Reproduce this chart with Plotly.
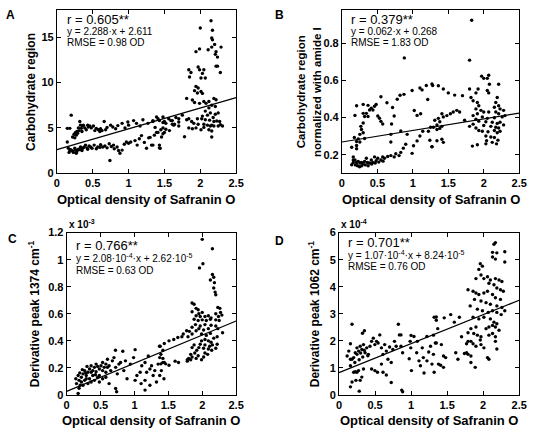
import numpy as np
import plotly.graph_objects as go

# ---------------- data ----------------
x_ticks = [0, 0.5, 1, 1.5, 2, 2.5]

# Panel A: carbohydrate region vs optical density
a_points = [
    (0.145,4.95),(0.18,4.95),(0.2,6.4),(0.22,4.0),(0.24,4.3),(0.26,4.5),(0.28,4.6),(0.30,5.0),(0.32,5.7),(0.33,5.3),
    (0.34,4.95),(0.36,5.2),(0.39,5.0),(0.41,4.8),(0.44,5.1),(0.48,5.0),(0.51,5.2),(0.55,4.95),(0.58,4.8),(0.61,4.9),
    (0.66,5.7),(0.70,5.05),(0.75,5.3),(0.82,4.9),(0.85,5.25),(0.91,5.5),(0.99,5.65),(1.07,5.8),(1.11,5.5),(1.20,5.9),
    (1.27,5.5),(1.34,5.8),(1.41,6.0),(1.48,5.6),(1.52,5.5),(1.59,5.8),(1.64,5.4),(1.70,5.65),
    (0.25,3.9),(0.27,4.2),(0.29,4.4),(0.31,4.7),(0.35,4.6),(0.37,5.3),(0.43,5.3),(0.46,5.2),(0.53,4.7),(0.6,4.6),
    (0.63,4.7),(0.68,4.8),(0.78,5.1),(0.95,5.0),(1.0,5.3),(1.16,5.2),
    (0.145,3.45),(0.16,2.75),(0.18,2.45),(0.2,2.55),(0.23,2.3),(0.25,2.75),(0.27,2.2),(0.30,2.65),(0.33,2.9),(0.36,2.75),
    (0.40,3.1),(0.42,2.8),(0.45,3.0),(0.49,2.75),(0.52,3.1),(0.57,2.9),(0.61,3.15),(0.67,3.0),(0.73,3.25),(0.74,1.4),
    (0.79,3.1),(0.84,2.9),(0.88,2.2),(0.91,2.55),(0.97,3.45),(1.03,3.45),(1.09,3.6),(1.15,3.8),(1.18,4.15),(1.25,2.75),
    (1.30,3.95),(1.34,3.1),(1.39,4.5),(1.44,2.75),(1.48,4.35),(1.52,4.85),(1.57,4.7),(1.61,5.4),
    (0.17,2.3),(0.19,2.6),(0.22,2.45),(0.26,2.55),(0.28,2.4),(0.32,2.6),(0.35,2.5),(0.38,2.9),(0.43,2.65),(0.47,2.9),
    (0.55,2.7),(0.6,2.85),(0.64,2.9),(0.7,2.8),(0.76,2.95),(0.8,2.7),(0.86,2.5),(0.94,3.2),(1.0,3.3),(1.12,3.1),
    (1.22,3.4),(1.28,3.9),(1.36,4.2),(1.46,4.0),
    (2.15,16.8),(2.0,16.0),(2.17,15.75),(2.16,14.9),(2.17,14.7),(2.2,14.2),(2.16,13.9),(2.29,13.9),(1.99,13.7),(1.94,13.4),
    (2.11,13.6),(2.22,13.4),(2.24,12.8),(2.21,13.1),(2.22,11.8),(2.24,11.8),(1.97,11.7),(1.99,11.4),(1.84,11.4),(1.87,11.1),
    (2.05,11.4),(2.03,11.0),(2.28,11.1),(1.85,10.6),(2.01,10.5),(2.07,10.5),(1.94,9.57),(1.97,9.4),(1.92,9.1),(2.01,9.0),
    (2.03,8.8),(1.96,8.85),(1.89,8.07),(1.81,8.25),(1.92,7.8),(1.99,7.7),(2.05,7.9),(2.08,7.7),(2.12,7.9),(2.19,8.25),
    (2.22,8.1),(2.16,7.5),(2.21,7.35),(2.12,7.2),(2.07,6.85),(2.03,6.3),(2.1,6.4),(2.14,6.65),(2.18,6.15),(2.21,6.5),
    (2.25,6.65),(1.96,6.0),(2.02,6.0),(2.07,5.9),(2.13,5.85),(2.19,5.7),(2.23,5.75),(2.27,5.7),(1.84,6.0),(1.88,5.7),
    (1.91,5.5),(1.97,5.4),(2.05,5.4),(2.1,5.3),(2.16,5.3),(2.19,5.2),(2.25,5.2),(2.31,5.2),(2.28,5.35),(1.94,5.0),
    (2.01,4.8),(2.05,5.05),(2.12,4.8),(2.16,4.65),(1.84,5.0),(1.89,4.9),(1.78,4.03),(2.16,4.0),(2.14,5.2),(1.75,6.4),
    (1.81,5.9),(1.7,6.0),(1.66,6.15),(1.61,5.8),(1.7,5.2),(1.63,5.3),(1.56,6.0),(1.5,5.7),(1.48,6.2),(1.43,5.8),
    (1.39,6.2),(1.34,5.7),(1.48,5.0),(1.5,4.5),(1.45,4.8),(1.41,4.5),(1.37,5.05),(1.43,3.1),(1.32,3.1),(1.43,2.8),
]

# Panel B: carbohydrate region normalized with amide I
b_points = [
    (1.83,0.922),(1.80,0.708),(1.97,0.622),(2.07,0.627),(2.05,0.61),(2.0,0.61),(2.08,0.578),(2.21,0.578),(1.27,0.58),(1.36,0.57),
    (1.43,0.553),(1.50,0.532),(1.59,0.52),(1.70,0.517),(1.80,0.553),(1.89,0.532),(1.92,0.553),(2.05,0.545),(2.07,0.532),(1.82,0.507),
    (1.85,0.49),(1.91,0.48),(1.93,0.463),(2.19,0.507),(2.17,0.48),(2.21,0.463),(2.15,0.455),(2.23,0.446),(2.28,0.438),(1.89,0.446),
    (1.96,0.438),(2.0,0.429),(2.07,0.429),(2.17,0.429),(2.21,0.42),(1.91,0.42),(1.85,0.41),(1.98,0.403),(2.05,0.395),(2.15,0.398),
    (2.26,0.403),(2.3,0.41),(1.89,0.39),(1.93,0.38),(2.03,0.377),(2.12,0.374),(2.19,0.368),(2.23,0.374),(2.28,0.36),(2.0,0.357),
    (2.1,0.352),(2.17,0.347),(2.21,0.343),(1.89,0.343),(1.93,0.33),(1.98,0.326),(2.06,0.323),(2.15,0.33),(2.19,0.318),(2.23,0.326),
    (1.80,0.352),(1.85,0.364),(2.03,0.3),(2.1,0.295),(2.15,0.292),(2.2,0.278),(2.04,0.275),(2.12,0.266),(2.18,0.258),(2.03,0.258),
    (1.84,0.246),(1.91,0.253),(1.73,0.385),(1.66,0.429),(1.62,0.438),(1.57,0.429),(1.53,0.42),(1.48,0.41),(1.43,0.403),(1.41,0.42),
    (1.36,0.395),(1.31,0.385),(1.38,0.377),(1.34,0.36),(1.29,0.347),(1.25,0.347),(1.41,0.352),(1.38,0.341),(1.34,0.335),(1.34,0.275),
    (1.41,0.283),(1.43,0.266),(1.27,0.243),
    (0.184,0.411),(0.207,0.463),(0.30,0.47),(0.368,0.465),(0.414,0.45),(0.46,0.46),(0.483,0.47),(0.55,0.511),(0.39,0.44),(0.437,0.44),
    (0.345,0.422),(0.30,0.422),(0.32,0.405),(0.368,0.405),(0.506,0.408),(0.53,0.396),(0.55,0.379),(0.575,0.365),(0.635,0.479),(0.714,0.453),
    (0.737,0.408),(0.78,0.498),(0.82,0.519),(0.875,0.524),(0.99,0.545),(1.1,0.558),(1.13,0.548),(1.19,0.572),(1.28,0.572),(0.30,0.37),
    (0.267,0.352),(0.276,0.335),(0.253,0.309),(0.30,0.318),(0.32,0.287),(0.23,0.285),(0.207,0.271),(0.253,0.268),(0.175,0.292),(0.138,0.24),
    (0.207,0.232),(0.16,0.188),(0.184,0.171),(0.16,0.158),(0.207,0.158),(0.23,0.164),(0.253,0.155),(0.276,0.158),(0.30,0.151),(0.32,0.164),
    (0.345,0.181),(0.36,0.158),(0.39,0.155),(0.414,0.171),(0.437,0.158),(0.46,0.188),(0.483,0.167),(0.506,0.181),(0.55,0.171),(0.575,0.188),
    (0.60,0.181),(0.645,0.19),(0.69,0.195),(0.737,0.188),(0.76,0.205),(0.806,0.195),(0.83,0.212),(0.866,0.235),(0.90,0.256),(0.99,0.207),
    (1.01,0.248),(1.06,0.274),(1.1,0.3),(0.69,0.268),(0.92,0.309),(1.06,0.411),(1.11,0.42),(1.02,0.437),(1.21,0.496),(1.22,0.326),
    (1.24,0.277),(1.27,0.242),(1.14,0.326),(0.69,0.309),(0.83,0.327),(0.70,0.365),(0.207,0.249),(0.138,0.146),(0.16,0.171),(0.88,0.72),
    (0.19,0.145),(0.22,0.14),(0.25,0.135),(0.28,0.14),(0.33,0.145),(0.37,0.14),(0.42,0.15),(0.47,0.155),(0.52,0.16),(0.58,0.165),
]

# Panel C: derivative peak 1374 cm-1 (values in units of 1e-3)
c_points = [
    (2.0,1.15),(2.15,1.08),(1.96,0.939),(2.01,0.97),(2.15,0.89),(2.17,0.87),(2.12,0.85),(2.18,0.83),(2.17,0.79),(2.19,0.76),
    (2.2,0.74),(2.23,0.647),(2.26,0.64),(2.27,0.61),(2.29,0.59),(1.85,0.68),(1.88,0.67),(1.91,0.64),(1.94,0.63),(1.85,0.615),
    (1.95,0.6),(2.0,0.61),(1.91,0.585),(1.97,0.58),(2.04,0.58),(2.09,0.585),(2.13,0.57),(2.2,0.6),(2.24,0.58),(1.88,0.56),
    (1.94,0.55),(2.0,0.555),(2.06,0.55),(2.12,0.56),(2.2,0.555),(2.25,0.55),(1.9,0.52),(1.97,0.51),(2.04,0.52),(2.13,0.515),
    (2.2,0.51),(1.85,0.5),(1.95,0.49),(2.02,0.48),(2.09,0.49),(2.23,0.49),(1.99,0.45),(2.06,0.44),(2.12,0.455),(2.17,0.42),
    (2.22,0.43),(2.3,0.46),(2.04,0.41),(2.09,0.4),(2.13,0.39),(1.99,0.4),(1.97,0.375),(2.04,0.37),(2.11,0.36),(2.15,0.37),
    (2.22,0.375),(2.02,0.345),(2.09,0.34),(2.14,0.33),(2.2,0.345),(2.04,0.31),(2.08,0.3),(1.95,0.35),(1.88,0.37),(1.85,0.35),
    (1.92,0.33),(1.89,0.31),(1.83,0.3),(1.85,0.28),(1.94,0.29),(1.8,0.27),(1.83,0.26),(1.78,0.25),(1.91,0.27),(1.99,0.26),
    (2.02,0.28),(1.91,0.475),(1.85,0.45),(1.81,0.47),(1.77,0.475),(1.79,0.43),(1.72,0.45),(1.7,0.43),(1.64,0.425),(1.58,0.41),
    (1.51,0.4),(1.44,0.38),(1.37,0.36),(1.42,0.33),(1.39,0.3),(1.42,0.27),(1.44,0.24),(1.39,0.23),(1.46,0.23),(1.51,0.22),
    (1.6,0.25),(1.65,0.24),(1.78,0.26),
    (0.169,0.012),(0.183,0.05),(0.145,0.084),(0.135,0.12),(0.169,0.144),(0.193,0.163),(0.217,0.131),(0.241,0.156),(0.265,0.18),(0.289,0.144),
    (0.313,0.168),(0.337,0.192),(0.361,0.216),(0.385,0.18),(0.409,0.204),(0.434,0.172),(0.458,0.211),(0.482,0.192),(0.506,0.216),(0.53,0.18),
    (0.554,0.204),(0.578,0.228),(0.602,0.264),(0.626,0.216),(0.65,0.18),(0.674,0.252),(0.698,0.276),(0.723,0.204),(0.747,0.156),(0.771,0.228),
    (0.795,0.24),(0.828,0.323),(0.843,0.18),(0.867,0.252),(0.891,0.12),(0.217,0.096),(0.241,0.072),(0.265,0.108),(0.313,0.084),(0.337,0.12),
    (0.361,0.096),(0.409,0.108),(0.458,0.131),(0.482,0.096),(0.53,0.12),(0.578,0.131),(0.626,0.084),(0.723,0.048),(0.737,0.024),(0.2,0.072),
    (0.183,0.108),(0.289,0.12),(0.385,0.144),(0.482,0.144),(0.28,0.163),(0.231,0.187),(0.3,0.211),(0.361,0.168),(0.424,0.149),(0.434,0.228),
    (0.53,0.24),(0.602,0.204),(0.578,0.168),(0.939,0.228),(0.987,0.276),(1.01,0.335),(1.036,0.144),(1.084,0.168),(1.108,0.216),(1.01,0.108),
    (1.098,0.084),(1.156,0.108),(1.18,0.168),(1.228,0.192),(1.156,0.24),(1.204,0.288),(1.252,0.216),(1.276,0.144),(1.3,0.18),(1.349,0.228),
    (1.373,0.144),(1.325,0.096),(1.397,0.18),(1.42,0.24),(1.435,0.12),(1.373,0.276),(1.228,0.072),(1.156,0.036),(0.72,0.33),(1.38,0.36),
]

# Panel D: derivative peak 1062 cm-1 (values in units of 1e-4)
d_points = [
    (0.181,2.61),(0.159,1.89),(0.136,1.62),(0.113,1.44),(0.159,1.32),(0.204,1.38),(0.226,1.56),(0.249,1.74),(0.272,1.62),(0.294,1.8),
    (0.317,1.68),(0.34,1.86),(0.353,2.37),(0.326,2.28),(0.362,1.56),(0.385,1.74),(0.408,1.5),(0.43,1.8),(0.453,1.98),(0.476,2.1),
    (0.498,1.86),(0.521,1.98),(0.543,1.92),(0.566,2.22),(0.589,1.74),(0.611,1.5),(0.634,1.86),(0.657,1.62),(0.679,1.32),(0.702,1.77),
    (0.725,1.2),(0.747,1.68),(0.77,1.98),(0.793,1.8),(0.824,2.61),(0.838,2.22),(0.86,1.8),(0.883,1.56),(0.87,0.18),(0.883,0.12),
    (0.181,1.32),(0.159,1.08),(0.204,0.84),(0.226,0.86),(0.249,0.84),(0.272,0.9),(0.294,0.54),(0.317,0.66),(0.34,0.96),(0.159,0.3),
    (0.181,0.48),(0.235,0.54),(0.281,0.14),(0.453,0.96),(0.498,0.9),(0.534,0.84),(0.589,1.14),(0.611,0.84),(0.657,0.74),(0.725,0.46),
    (0.974,1.34),(0.987,1.98),(0.996,1.74),(1.005,0.9),(1.04,2.16),(1.078,1.56),(1.087,1.98),(1.11,1.26),(1.13,1.08),(1.155,1.74),
    (1.17,1.38),(1.18,0.81),(1.22,1.26),(1.245,1.59),(1.27,1.8),(1.29,1.14),(1.31,1.5),(1.336,1.92),(1.35,2.76),(1.35,2.88),
    (1.22,2.16),(0.86,2.22),(1.0,2.2),(0.25,1.5),(0.3,1.55),(0.35,1.65),(0.4,1.45),(0.28,1.3),(0.22,1.2),(0.33,1.4),
    (2.17,5.63),(2.15,5.57),(2.13,5.27),(2.19,5.25),(2.3,5.29),(2.13,5.1),(2.17,5.02),(2.3,4.91),(1.96,4.85),(1.99,4.76),
    (1.94,4.64),(1.9,4.3),(1.97,4.43),(2.01,4.3),(2.06,4.37),(2.1,4.25),(2.17,4.3),(2.22,4.25),(2.26,4.19),(2.08,4.13),
    (2.15,4.07),(2.19,3.95),(2.24,3.89),(2.28,3.83),(1.79,3.89),(1.86,3.83),(1.9,3.77),(1.94,3.71),(2.01,3.77),(2.06,3.83),
    (2.13,3.71),(2.17,3.59),(2.24,3.53),(1.88,3.53),(1.97,3.47),(2.04,3.41),(2.1,3.35),(2.19,3.29),(2.26,3.23),(2.3,3.11),
    (1.82,3.29),(1.92,3.17),(1.99,3.11),(2.07,3.05),(2.13,3.11),(2.19,3.05),(2.25,2.97),(1.86,2.87),(1.94,2.81),(2.01,2.87),
    (2.1,2.81),(2.15,2.69),(2.19,2.63),(2.13,2.57),(2.17,2.51),(2.08,2.51),(2.04,2.45),(2.22,2.39),(2.13,2.27),(2.08,2.21),
    (2.17,2.15),(1.9,2.51),(1.83,2.45),(1.79,2.3),(1.87,2.27),(1.92,2.21),(1.97,2.15),(1.79,1.98),(1.77,1.89),(1.86,1.89),
    (1.9,1.8),(1.97,1.86),(2.01,1.74),(2.19,1.7),(2.06,1.38),(2.08,1.32),(1.74,1.53),(1.79,1.5),(1.83,1.44),(1.83,1.2),
    (1.89,1.02),(1.7,2.15),(1.6,2.69),(1.67,2.87),(1.55,2.97),(1.46,2.85),(1.32,2.87),(1.37,2.45),(1.31,2.21),(1.35,1.92),
    (1.42,1.86),(1.45,1.44),(1.48,1.38),(1.38,1.14),(1.41,1.1),(1.45,1.02),(1.32,0.84),(1.62,1.56),(1.65,1.32),(1.77,1.56),
    (1.96,2.03),(1.83,1.98),(2.17,1.98),
]

# regression fits (slope, intercept) in plotted units
a_fit = (2.288, 2.611)
b_fit = (0.062, 0.268)
c_fit = (0.208, 0.0262)   # 2.08e-4, 2.62e-5 in units of 1e-3
d_fit = (1.07, 0.824)     # 1.07e-4, 8.24e-5 in units of 1e-4

a_text = ["r = 0.605**", "y = 2.288·x + 2.611", "RMSE = 0.98 OD"]
b_text = ["r = 0.379**", "y = 0.062·x + 0.268", "RMSE = 1.83 OD"]
c_text = ["r = 0.766**", "y = 2.08·10<sup>-4</sup>·x + 2.62·10<sup>-5</sup>", "RMSE = 0.63 OD"]
d_text = ["r = 0.701**", "y = 1.07·10<sup>-4</sup>·x + 8.24·10<sup>-5</sup>", "RMSE = 0.76 OD"]

a_yticks = [0, 5, 10, 15]
b_yticks = [0.2, 0.4, 0.6, 0.8]
c_yticks = [0, 0.2, 0.4, 0.6, 0.8, 1, 1.2]
d_yticks = [0, 1, 2, 3, 4, 5, 6]

# ---------------- layout helpers ----------------
W, H = 537, 435
def px(x):
    return x / W
def py(y):
    return 1 - y / H

FONT = "Liberation Sans, Arial, sans-serif"

panels = [
    dict(pts=a_points, fit=a_fit, txt=a_text, yt=a_yticks, yr=[0, 18], box=(55, 238, 4, 172),
         ylab=["Carbohydrate region"], ylx=[28], ylsize=12, letter="A", lpos=(8, 9), tpos=(63, 14),
         gaps=(12, 24), exp=None),
    dict(pts=b_points, fit=b_fit, txt=b_text, yt=b_yticks, yr=[0.1, 0.978], box=(346, 527, 4, 172),
         ylab=["Carbohydrate region", "normalized with amide I"], ylx=[304, 320], ylsize=11.5, letter="B",
         lpos=(282, 9), tpos=(353, 14), gaps=(12, 24), exp=None),
    dict(pts=c_points, fit=c_fit, txt=c_text, yt=c_yticks, yr=[0, 1.2], box=(65, 238, 233, 400),
         ylab=["Derivative peak 1374 cm<sup>-1</sup>"], ylx=[31], ylsize=12, letter="C", lpos=(10, 240),
         tpos=(72, 246), gaps=(13, 26), exp="x 10<sup>-3</sup>"),
    dict(pts=d_points, fit=d_fit, txt=d_text, yt=d_yticks, yr=[0, 6], box=(343, 527, 233, 400),
         ylab=["Derivative peak 1062 cm<sup>-1</sup>"], ylx=[317], ylsize=12, letter="D", lpos=(282, 242),
         tpos=(350, 243), gaps=(13, 25), exp="x 10<sup>-4</sup>"),
]

fig = go.Figure()
annotations = []
axis_common = dict(showline=True, linecolor="black", linewidth=1, mirror="ticks",
                   ticks="inside", ticklen=4, tickcolor="black", showgrid=False, zeroline=False,
                   tickfont=dict(family=FONT, size=11, color="black", weight="bold"))

for i, p in enumerate(panels, start=1):
    xs = [q[0] for q in p["pts"]]
    ys = [q[1] for q in p["pts"]]
    xa = "x" if i == 1 else f"x{i}"
    ya = "y" if i == 1 else f"y{i}"
    fig.add_trace(go.Scatter(x=xs, y=ys, mode="markers", xaxis=xa, yaxis=ya,
                             marker=dict(color="black", size=3.4), showlegend=False, hoverinfo="skip"))
    lx = np.array([0.0, 2.5])
    fig.add_trace(go.Scatter(x=lx, y=p["fit"][0] * lx + p["fit"][1], mode="lines", xaxis=xa, yaxis=ya,
                             line=dict(color="black", width=1.2), showlegend=False, hoverinfo="skip"))
    l, r, t, b = p["box"]
    fig.update_layout(**{
        ("xaxis" if i == 1 else f"xaxis{i}"): dict(domain=[px(l), px(r)], range=[0, 2.5], tickvals=x_ticks,
                                                  anchor=ya, **axis_common),
        ("yaxis" if i == 1 else f"yaxis{i}"): dict(domain=[py(b), py(t)], range=p["yr"], tickvals=p["yt"],
                                                  anchor=xa, **axis_common),
    })
    annotations.append(dict(text=f"<b>{p['letter']}</b>", x=px(p["lpos"][0]), y=py(p["lpos"][1]), xref="paper", yref="paper",
                            showarrow=False, xanchor="center", yanchor="middle", font=dict(family=FONT, size=12, color="black")))
    tx, ty = p["tpos"]
    g1, g2 = p["gaps"]
    annotations.append(dict(text=p["txt"][0], x=px(tx), y=py(ty), xref="paper", yref="paper", showarrow=False,
                            xanchor="left", yanchor="middle", font=dict(family=FONT, size=13, color="black")))
    annotations.append(dict(text=p["txt"][1], x=px(tx), y=py(ty + g1), xref="paper", yref="paper", showarrow=False,
                            xanchor="left", yanchor="middle", font=dict(family=FONT, size=10, color="black")))
    annotations.append(dict(text=p["txt"][2], x=px(tx), y=py(ty + g2), xref="paper", yref="paper", showarrow=False,
                            xanchor="left", yanchor="middle", font=dict(family=FONT, size=10, color="black")))
    for lab, lxp in zip(p["ylab"], p["ylx"]):
        annotations.append(dict(text=f"<b>{lab}</b>", x=px(lxp), y=py((t + b) / 2), xref="paper", yref="paper",
                                showarrow=False, textangle=-90, xanchor="center", yanchor="middle",
                                font=dict(family=FONT, size=p["ylsize"], color="black")))
    xl_y = 199 if i <= 2 else 426
    annotations.append(dict(text="<b>Optical density of Safranin O</b>", x=px((l + r) / 2), y=py(xl_y), xref="paper",
                            yref="paper", showarrow=False, xanchor="center", yanchor="middle",
                            font=dict(family=FONT, size=13, color="black")))
    if p["exp"]:
        annotations.append(dict(text=f"<b>{p['exp']}</b>", x=px(l), y=py(224), xref="paper", yref="paper",
                                showarrow=False, xanchor="left", yanchor="middle",
                                font=dict(family=FONT, size=10, color="black")))

fig.update_layout(width=W, height=H, margin=dict(l=0, r=0, t=0, b=0), paper_bgcolor="white",
                  plot_bgcolor="white", annotations=annotations, showlegend=False)

fig.write_html("out.html", config={"displayModeBar": False},
               post_script="document.body.style.margin='0px';document.body.style.overflow='hidden';")
